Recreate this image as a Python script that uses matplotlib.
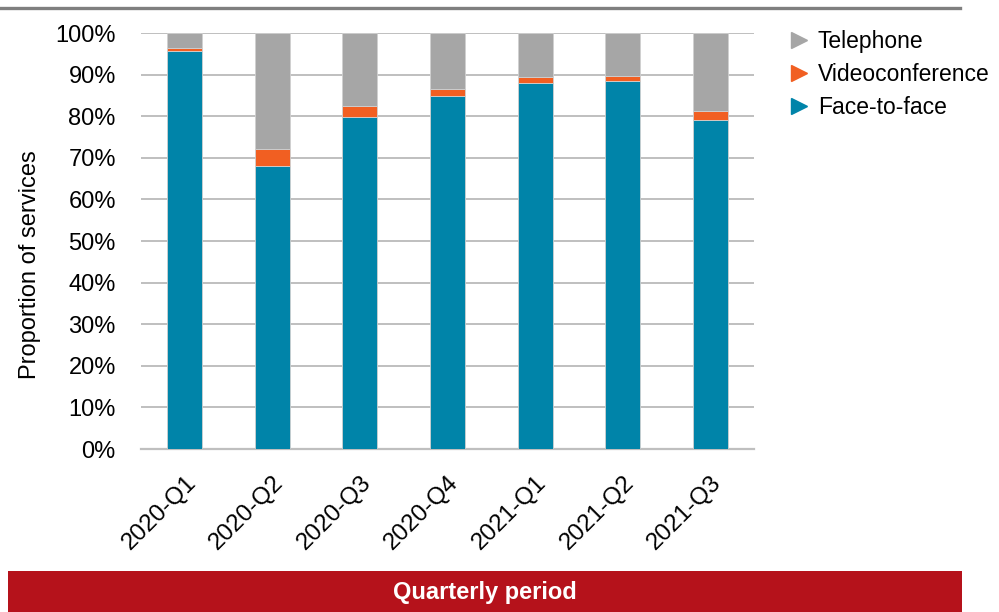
import numpy as np
import matplotlib.pyplot as plt
from matplotlib.lines import Line2D
from matplotlib.patches import Rectangle

plt.rcParams['font.family'] = ['Liberation Sans', 'DejaVu Sans']

# ---- data (percent of services) ----
quarters = ['2020-Q1', '2020-Q2', '2020-Q3', '2020-Q4', '2021-Q1', '2021-Q2', '2021-Q3']
face = np.array([95.7, 68.0, 79.8, 84.8, 88.1, 88.5, 79.0])
video = np.array([0.6, 4.1, 2.7, 1.7, 1.3, 1.2, 2.2])
phone = 100 - face - video

c_face = '#0084A9'
c_video = '#F15F22'
c_phone = '#A6A6A6'

fig = plt.figure(figsize=(9.99, 6.12), dpi=100)
ax = fig.add_axes([0.141, 0.2663, 0.614, 0.6797])

x = np.arange(len(quarters))
w = 0.4
ax.bar(x, face, w, color=c_face, edgecolor='#D0D0D0', linewidth=0.6, zorder=3)
ax.bar(x, video, w, bottom=face, color=c_video, edgecolor='#D0D0D0', linewidth=0.6, zorder=3)
ax.bar(x, phone, w, bottom=face + video, color=c_phone, edgecolor='#D0D0D0', linewidth=0.6, zorder=3)

ax.set_xlim(-0.5, len(quarters) - 0.5)
ax.set_ylim(0, 100)
ax.set_yticks(np.arange(0, 101, 10))
ax.set_yticklabels([f'{v}%' for v in range(0, 101, 10)], fontsize=17)
ax.set_xticks(x)
ax.set_xticklabels(quarters, rotation=45, ha='right', rotation_mode='anchor', fontsize=17.5)
ax.tick_params(axis='y', length=0, pad=18)
ax.tick_params(axis='x', length=0, pad=16)
ax.grid(axis='y', color='#BFBFBF', linewidth=1.4, zorder=0)
for s in ['left', 'right', 'top']:
    ax.spines[s].set_visible(False)
ax.spines['bottom'].set_color('#BFBFBF')
ax.spines['bottom'].set_linewidth(1.6)

fig.text(30 / 999, 1 - 265 / 612, 'Proportion of services', rotation=90,
         ha='center', va='center', fontsize=17)

# ---- legend ----
handles = [Line2D([], [], marker='>', linestyle='none', color=c, markersize=12)
           for c in [c_phone, c_video, c_face]]
fig.legend(handles, ['Telephone', 'Videoconference', 'Face-to-face'],
           loc='upper left', bbox_to_anchor=(780 / 999, 1 - 19 / 612),
           frameon=False, fontsize=16.5, handlelength=0.7, handletextpad=0.45,
           labelspacing=0.42, borderpad=0)

# ---- decorations ----
fig.add_artist(Line2D([0, 960 / 999], [1 - 8 / 612, 1 - 8 / 612], color='#7F7F7F', linewidth=2.4))
fig.add_artist(Rectangle((8 / 999, 0), 954 / 999, 41 / 612, facecolor='#B5121B',
                         edgecolor='none', transform=fig.transFigure))
fig.text(485 / 999, 1 - 593 / 612, 'Quarterly period', color='white', fontsize=17,
         fontweight='bold', ha='center', va='center')

fig.savefig('out.png', dpi=100)
